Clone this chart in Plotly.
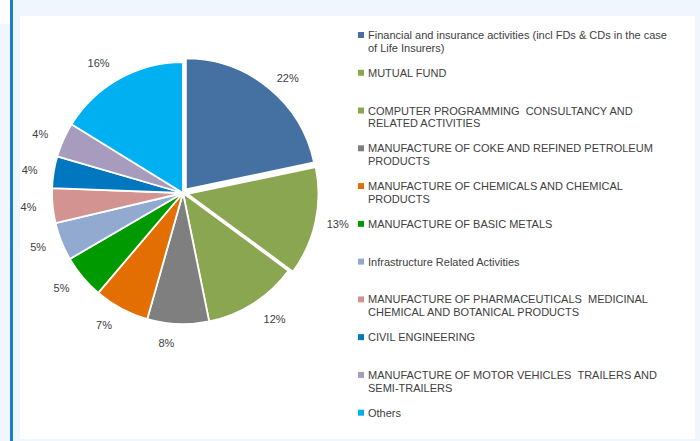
import plotly.graph_objects as go

# Sector shares of the portfolio (%), in drawing order (clockwise from 12 o'clock)
sectors = [
    "Financial and insurance activities (incl FDs & CDs in the case<br>of Life Insurers)",
    "MUTUAL FUND",
    "COMPUTER PROGRAMMING \u00a0CONSULTANCY AND<br>RELATED ACTIVITIES",
    "MANUFACTURE OF COKE AND REFINED PETROLEUM<br>PRODUCTS",
    "MANUFACTURE OF CHEMICALS AND CHEMICAL<br>PRODUCTS",
    "MANUFACTURE OF BASIC METALS",
    "Infrastructure Related Activities",
    "MANUFACTURE OF PHARMACEUTICALS \u00a0MEDICINAL<br>CHEMICAL AND BOTANICAL PRODUCTS",
    "CIVIL ENGINEERING",
    "MANUFACTURE OF MOTOR VEHICLES \u00a0TRAILERS AND<br>SEMI-TRAILERS",
    "Others",
]
shares = [21.7, 13.4, 11.7, 7.6, 6.8, 5.4, 4.7, 4.3, 3.9, 4.3, 16.2]
colors = [
    "#4471a1", "#8aa651", "#8aa651", "#7f7f7f", "#e36f02", "#009a00",
    "#92a9d0", "#d39391", "#0077be", "#a89cbe", "#00b0f0",
]
pulls = [0.035, 0.035, 0, 0, 0, 0, 0, 0, 0, 0, 0]

W, H = 700, 441
TEXT = "#404040"
FONT = "Liberation Sans, Arial, sans-serif"
CX, CY, R = 183, 193, 131      # pie centre and radius (px)
LABEL_R = 144                  # radius of the ring the percentage labels sit on


def px(x):
    return x / W


def py(y):
    return 1 - y / H


flat_names = [s.replace("<br>", " ") for s in sectors]
box = R * (1 + max(pulls))

fig = go.Figure()
# the coloured pie
fig.add_trace(go.Pie(
    labels=flat_names,
    values=shares,
    marker=dict(colors=colors, line=dict(color="white", width=1.8)),
    pull=pulls,
    sort=False,
    direction="clockwise",
    rotation=0,
    textinfo="none",
    showlegend=False,
    hoverinfo="label+percent",
    domain=dict(x=[px(CX - box), px(CX + box)], y=[py(CY + box), py(CY - box)]),
))
# transparent ring of the same shares carrying the percentage labels a little further out
fig.add_trace(go.Pie(
    labels=flat_names,
    values=shares,
    marker=dict(colors=["rgba(0,0,0,0)"] * len(shares), line=dict(width=0)),
    sort=False,
    direction="clockwise",
    rotation=0,
    texttemplate="%{percent:.0%}",
    textposition="outside",
    textfont=dict(family=FONT, size=11, color=TEXT),
    showlegend=False,
    hoverinfo="skip",
    domain=dict(x=[px(CX - LABEL_R), px(CX + LABEL_R)],
                y=[py(CY + LABEL_R), py(CY - LABEL_R)]),
))

shapes = [
    # page frame
    dict(type="rect", xref="paper", yref="paper", x0=0, x1=px(10), y0=py(24), y1=1,
         fillcolor="white", line_width=0, layer="below"),
    dict(type="rect", xref="paper", yref="paper", x0=px(10), x1=px(13), y0=0, y1=1,
         fillcolor="#1b7fca", line_width=0, layer="below"),
    dict(type="rect", xref="paper", yref="paper", x0=px(20), x1=px(695), y0=py(439), y1=py(16),
         fillcolor="white", line_width=0, layer="below"),
]
annotations = []

# Legend: one swatch per sector, entries spaced evenly down the right side
row0, row_step, line_step = 35.0, 37.77, 12.7
for i, (name, col) in enumerate(zip(sectors, colors)):
    yc = row0 + i * row_step
    shapes.append(dict(type="rect", xref="paper", yref="paper",
                       x0=px(358), x1=px(364), y0=py(yc + 3), y1=py(yc - 3),
                       fillcolor=col, line_width=0))
    for j, line in enumerate(name.split("<br>")):
        annotations.append(dict(
            text=line, xref="paper", yref="paper",
            x=px(366), y=py(yc + j * line_step),
            xanchor="left", yanchor="middle", showarrow=False,
            font=dict(family=FONT, size=11, color=TEXT),
        ))

fig.update_layout(
    width=W, height=H,
    margin=dict(l=0, r=0, t=0, b=0),
    paper_bgcolor="#eff6fd",
    plot_bgcolor="#eff6fd",
    shapes=shapes,
    annotations=annotations,
)

fig.write_html("out.html")
